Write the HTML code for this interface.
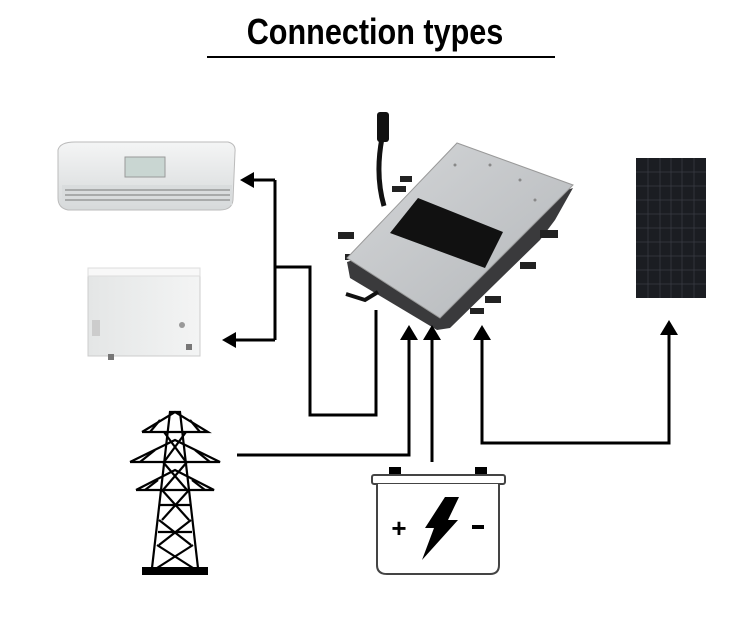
<!DOCTYPE html>
<html><head><style>
html,body{margin:0;padding:0;background:#fff;width:750px;height:620px;overflow:hidden}
</style></head><body>
<svg width="750" height="620" viewBox="0 0 750 620" xmlns="http://www.w3.org/2000/svg">
<defs>
<linearGradient id="ac" x1="0" y1="0" x2="0" y2="1"><stop offset="0" stop-color="#f4f5f5"/><stop offset="1" stop-color="#d6d9da"/></linearGradient>
<linearGradient id="fr" x1="0" y1="0" x2="1" y2="0"><stop offset="0" stop-color="#e4e6e6"/><stop offset="1" stop-color="#f3f4f4"/></linearGradient>
<linearGradient id="inv" x1="0" y1="0" x2="1" y2="1"><stop offset="0" stop-color="#d4d6d8"/><stop offset="1" stop-color="#b4b7ba"/></linearGradient>
</defs>
<text x="375" y="44" text-anchor="middle" font-family="Liberation Sans, sans-serif" font-weight="bold" font-size="36" transform="translate(375 0) scale(0.85 1) translate(-375 0)">Connection types</text>
<line x1="207" y1="57" x2="555" y2="57" stroke="#000" stroke-width="2"/>

<!-- AC unit -->
<path d="M58 150 Q60 142 75 142 L228 142 Q236 144 235 152 L233 200 Q232 210 220 210 L68 210 Q58 208 58 198 Z" fill="url(#ac)" stroke="#bbb"/>
<rect x="125" y="157" width="40" height="20" fill="#c9d6d2" stroke="#999"/>
<rect x="62" y="185" width="170" height="20" fill="#d9dcdd"/>
<g stroke="#777" stroke-width="1"><line x1="65" y1="190" x2="230" y2="190"/><line x1="65" y1="195" x2="230" y2="195"/><line x1="65" y1="200" x2="230" y2="200"/></g>
<!-- freezer -->
<rect x="88" y="268" width="112" height="88" fill="url(#fr)" stroke="#ccc"/>
<rect x="88" y="268" width="112" height="8" fill="#f8f8f8" stroke="#ddd"/>
<circle cx="182" cy="325" r="3" fill="#999"/>
<rect x="92" y="320" width="8" height="16" fill="#ccc"/>
<rect x="108" y="354" width="6" height="6" fill="#777"/><rect x="186" y="344" width="6" height="6" fill="#777"/>
<!-- solar -->
<rect x="636" y="158" width="70" height="140" fill="#1b1d22"/>
<g stroke="#3a3d45" stroke-width="0.7">
<line x1="648" y1="158" x2="648" y2="298"/><line x1="660" y1="158" x2="660" y2="298"/><line x1="671" y1="158" x2="671" y2="298"/><line x1="682" y1="158" x2="682" y2="298"/><line x1="694" y1="158" x2="694" y2="298"/>
<line x1="636" y1="172" x2="706" y2="172"/><line x1="636" y1="186" x2="706" y2="186"/><line x1="636" y1="200" x2="706" y2="200"/><line x1="636" y1="214" x2="706" y2="214"/><line x1="636" y1="228" x2="706" y2="228"/><line x1="636" y1="242" x2="706" y2="242"/><line x1="636" y1="256" x2="706" y2="256"/><line x1="636" y1="270" x2="706" y2="270"/><line x1="636" y1="284" x2="706" y2="284"/></g>
<!-- inverter -->
<path d="M347 262 L350 278 L437 330 L450 328 L540 240 L555 220 L573 188 Z" fill="#3a3a3c"/>
<g fill="#222"><rect x="338" y="232" width="16" height="7"/><rect x="392" y="186" width="14" height="6"/><rect x="400" y="176" width="12" height="6"/><rect x="540" y="230" width="18" height="8"/><rect x="520" y="262" width="16" height="7"/><rect x="485" y="296" width="16" height="7"/><rect x="470" y="308" width="14" height="6"/><rect x="345" y="254" width="12" height="6"/></g>
<path d="M347 258 L457 143 L573 185 L440 318 Z" fill="url(#inv)" stroke="#999"/>
<path d="M390 233 L418 198 L503 232 L485 268 Z" fill="#111"/>
<g fill="#888"><circle cx="455" cy="165" r="1.5"/><circle cx="490" cy="165" r="1.5"/><circle cx="520" cy="180" r="1.5"/><circle cx="535" cy="200" r="1.5"/></g>
<path d="M384 206 Q375 175 382 138" stroke="#111" stroke-width="5" fill="none"/>
<rect x="377" y="112" width="12" height="30" fill="#111" rx="3"/>
<path d="M346 294 L365 300 L378 292" stroke="#111" stroke-width="4" fill="none"/>

<!-- connectors -->
<g stroke="#000" stroke-width="3" fill="none">
<polyline points="376,310 376,415 310,415 310,267 275,267"/>
<line x1="275" y1="180" x2="275" y2="340"/>
<line x1="275" y1="180" x2="250" y2="180"/>
<line x1="275" y1="340" x2="230" y2="340"/>
<polyline points="237,455 409,455 409,335"/>
<line x1="432" y1="462" x2="432" y2="335"/>
<polyline points="482,335 482,443 669,443 669,330"/>
</g>
<g fill="#000">
<polygon points="240,180 254,172 254,188"/>
<polygon points="222,340 236,332 236,348"/>
<polygon points="409,325 400,340 418,340"/>
<polygon points="432,325 423,340 441,340"/>
<polygon points="482,325 473,340 491,340"/>
<polygon points="669,320 660,335 678,335"/>
</g>

<!-- tower -->
<g stroke="#000" stroke-width="2.2" fill="none">
<polyline points="152,568 170,412 180,412 198,568"/>
<polyline points="142,432 208,432 175,412 142,432"/>
<polyline points="130,462 220,462 175,440 130,462"/>
<polyline points="136,490 214,490 175,470 136,490"/>
<path d="M150,432 L160,420 M200,432 L190,420 M140,462 L155,450 M210,462 L195,450 M145,490 L158,480 M205,490 L192,480"/>
<path d="M164,432 L186,462 M186,432 L164,462 M163,462 L187,490 M187,462 L163,490 M162,490 L189,520 M189,490 L162,520 M159,520 L191,545 M191,520 L159,545 M157,545 L193,568 M193,545 L157,568 M160,505 L190,505 M158,532 L192,532"/>
</g>
<rect x="142" y="567" width="66" height="8" fill="#000"/>
<!-- battery -->
<rect x="389" y="467" width="12" height="9" fill="#000"/>
<rect x="475" y="467" width="12" height="9" fill="#000"/>
<rect x="372" y="475" width="133" height="9" rx="2" fill="#fff" stroke="#444" stroke-width="2"/>
<path d="M377 484 L377 565 Q377 574 387 574 L490 574 Q499 574 499 565 L499 484" fill="#fff" stroke="#444" stroke-width="2"/>
<text x="399" y="537" text-anchor="middle" font-family="Liberation Sans, sans-serif" font-weight="bold" font-size="26">+</text>
<rect x="472" y="525" width="12" height="4" fill="#000"/>
<polygon points="445,497 459,497 448,520 458,520 422,560 434,528 425,528" fill="#000"/>
</svg>
</body></html>
